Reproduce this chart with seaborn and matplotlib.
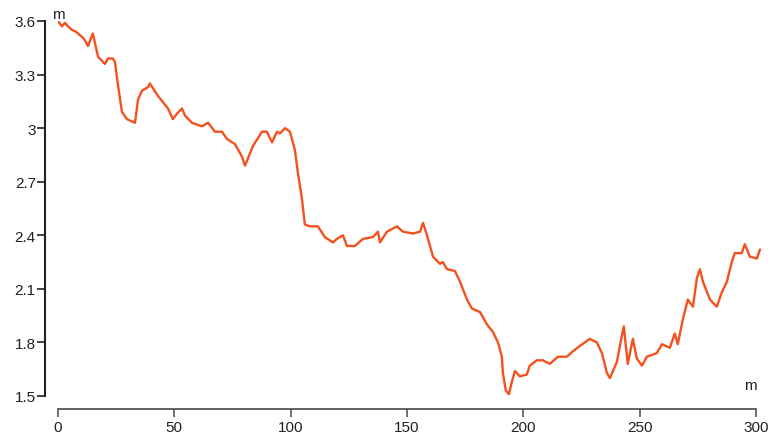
import pandas as pd
import matplotlib
matplotlib.use("Agg")
import matplotlib.pyplot as plt
import seaborn as sns

# distance along the profile (m) and elevation (m)
distance = [0, 1.7, 3.0, 4.3, 6.0, 7.7, 9.5, 11.2, 12.9, 15.0, 17.2, 20.2, 21.5, 23.6, 24.5,
            25.8, 27.5, 29.7, 33.1, 34.4, 36.1, 38.7, 39.5, 43.0, 47.3, 49.4, 51.1, 53.3, 54.6,
            57.6, 61.9, 64.5, 67.5, 70.5, 72.6, 76.1, 79.1, 80.4, 83.8, 87.7, 89.8, 92.0, 94.1,
            95.4, 97.6, 99.7, 101.8, 103.1, 104.9, 106.1, 108.3, 111.7, 114.7, 118.2, 119.9,
            122.5, 124.2, 127.6, 131.1, 135.4, 137.5, 138.4, 141.4, 145.7, 148.3, 152.6, 155.6,
            156.9, 158.6, 161.2, 164.2, 165.4, 167.2, 170.6, 172.8, 175.8, 177.9, 181.4, 184.4,
            186.9, 189.1, 190.8, 191.2, 192.5, 193.8, 195.1, 196.4, 198.5, 201.5, 202.8, 205.8,
            208.4, 211.4, 214.9, 218.7, 221.3, 224.3, 228.6, 231.6, 233.8, 235.9, 237.2, 240.2,
            242.4, 243.2, 244.9, 247.1, 248.8, 251.0, 253.1, 257.4, 259.6, 263.0, 265.1, 266.4,
            268.6, 270.7, 272.9, 274.6, 275.9, 277.2, 280.2, 283.2, 285.3, 287.5, 289.6, 290.9,
            293.9, 295.2, 297.4, 300.4, 301.7]
elevation = [3.60, 3.57, 3.59, 3.57, 3.55, 3.54, 3.52, 3.50, 3.46, 3.53, 3.40, 3.36, 3.39, 3.39, 3.37,
             3.24, 3.09, 3.05, 3.03, 3.16, 3.21, 3.23, 3.25, 3.18, 3.11, 3.05, 3.08, 3.11, 3.07,
             3.03, 3.01, 3.03, 2.98, 2.98, 2.94, 2.91, 2.84, 2.79, 2.90, 2.98, 2.98, 2.92, 2.98,
             2.97, 3.00, 2.98, 2.88, 2.75, 2.60, 2.46, 2.45, 2.45, 2.39, 2.36, 2.38,
             2.40, 2.34, 2.34, 2.38, 2.39, 2.42, 2.36, 2.42, 2.45, 2.42, 2.41, 2.42,
             2.47, 2.40, 2.28, 2.24, 2.25, 2.21, 2.20, 2.14, 2.04, 1.99, 1.97, 1.90,
             1.86, 1.80, 1.72, 1.63, 1.53, 1.51, 1.58, 1.64, 1.61, 1.62, 1.67, 1.70,
             1.70, 1.68, 1.72, 1.72, 1.75, 1.78, 1.82, 1.80, 1.74, 1.63, 1.60, 1.69,
             1.84, 1.89, 1.68, 1.82, 1.71, 1.67, 1.72, 1.74, 1.79, 1.77, 1.85, 1.79,
             1.93, 2.04, 2.00, 2.16, 2.21, 2.14, 2.04, 2.00, 2.08, 2.14, 2.25, 2.30,
             2.30, 2.35, 2.28, 2.27, 2.32]

y_ticks = [1.5, 1.8, 2.1, 2.4, 2.7, 3.0, 3.3, 3.6]
y_labels = ["1.5", "1.8", "2.1", "2.4", "2.7", "3", "3.3", "3.6"]
x_ticks = [0, 50, 100, 150, 200, 250, 300]

df = pd.DataFrame({"distance": distance, "elevation": elevation})

sns.set_style("ticks")
plt.rcParams["font.family"] = ["Liberation Sans", "DejaVu Sans"]

fig = plt.figure(figsize=(7.69, 4.39), dpi=100)
ax = fig.add_axes([0.0754, 0.0957, 0.9137, 0.8542])

sns.lineplot(data=df, x="distance", y="elevation", color="#f4511e", linewidth=1.7, ax=ax)

ax.set_xlim(0, 302)
ax.set_ylim(1.5, 3.6)
ax.set_xticks(x_ticks)
ax.set_yticks(y_ticks)
ax.set_yticklabels(y_labels)
ax.set_xlabel("")
ax.set_ylabel("")

sns.despine(ax=ax)
ax.spines["left"].set_position(("outward", 9.5))
ax.spines["bottom"].set_position(("outward", 9.5))
ax.spines["left"].set_bounds(1.5, 3.6)
ax.spines["bottom"].set_bounds(0, 300)
ax.spines["left"].set_color("#222222")
ax.spines["left"].set_linewidth(1.5)
ax.spines["bottom"].set_color("#555555")
ax.spines["bottom"].set_linewidth(1.3)
ax.tick_params(axis="y", length=6, width=1.2, color="#222222", labelsize=11, pad=0.5,
               labelcolor="#222222")
ax.tick_params(axis="x", length=6, width=1.2, color="#555555", labelsize=11, pad=2,
               labelcolor="#222222")

ax.text(0, 3.6, "m", ha="center", va="bottom", fontsize=11, color="#222222")
ax.text(297.5, 1.56, "m", ha="center", va="center", fontsize=11, color="#222222")

fig.savefig("out.png", dpi=100)
